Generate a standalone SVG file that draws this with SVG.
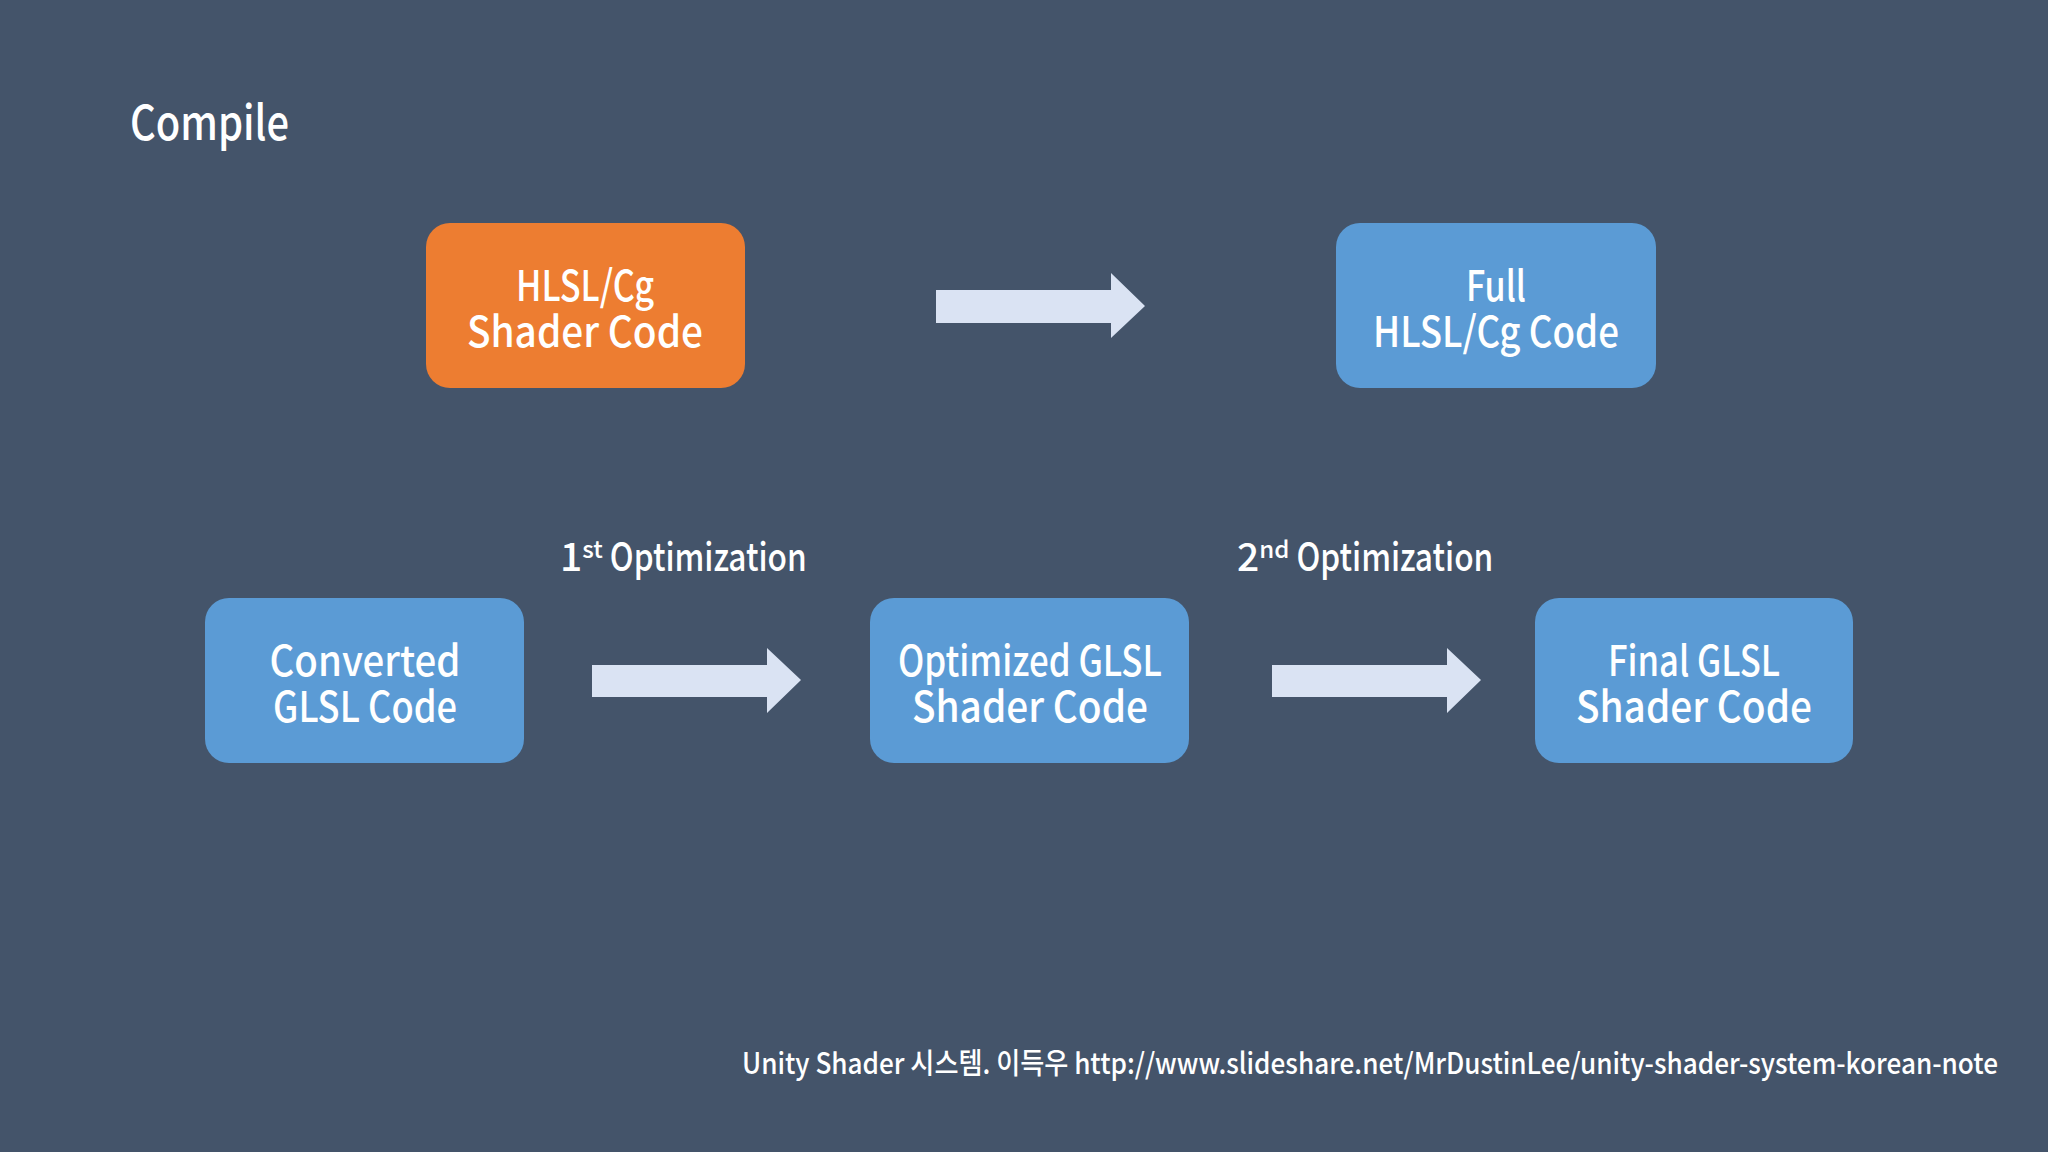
<svg xmlns="http://www.w3.org/2000/svg" width="2048" height="1152" viewBox="0 0 2048 1152">
<style>
text{font-family:"Noto Sans CJK KR","Noto Sans",sans-serif;fill:#fff;font-weight:500}
.b{font-size:42px;text-anchor:middle}
.l{font-size:39px}
.o{fill:#ED7D31}.u{fill:#5B9BD5}
.a{fill:#DAE3F3}
</style>
<rect width="2048" height="1152" fill="#44546A"/>
<text x="130" y="140" font-size="48" textLength="159" lengthAdjust="spacingAndGlyphs">Compile</text>
<g id="n1"><rect class="o" x="426" y="223" width="319" height="165" rx="24"/><text class="b" x="585" y="301" textLength="138" lengthAdjust="spacingAndGlyphs">HLSL/Cg</text><text class="b" x="585" y="347" textLength="236" lengthAdjust="spacingAndGlyphs">Shader Code</text></g>
<g id="n2"><rect class="u" x="1336" y="223" width="320" height="165" rx="24"/><text class="b" x="1496" y="301" textLength="60" lengthAdjust="spacingAndGlyphs">Full</text><text class="b" x="1496" y="347" textLength="246" lengthAdjust="spacingAndGlyphs">HLSL/Cg Code</text></g>
<g id="n3"><rect class="u" x="205" y="598" width="319" height="165" rx="24"/><text class="b" x="365" y="676" textLength="191" lengthAdjust="spacingAndGlyphs">Converted</text><text class="b" x="365" y="722" textLength="184" lengthAdjust="spacingAndGlyphs">GLSL Code</text></g>
<g id="n4"><rect class="u" x="870" y="598" width="319" height="165" rx="24"/><text class="b" x="1030" y="676" textLength="264" lengthAdjust="spacingAndGlyphs">Optimized GLSL</text><text class="b" x="1030" y="722" textLength="236" lengthAdjust="spacingAndGlyphs">Shader Code</text></g>
<g id="n5"><rect class="u" x="1535" y="598" width="318" height="165" rx="24"/><text class="b" x="1694" y="676" textLength="172" lengthAdjust="spacingAndGlyphs">Final GLSL</text><text class="b" x="1694" y="722" textLength="236" lengthAdjust="spacingAndGlyphs">Shader Code</text></g>
<g id="connectors">
<polygon class="a" points="936,290 1111,290 1111,273 1145,306 1111,338 1111,323 936,323"/>
<polygon class="a" points="592,665 767,665 767,648 801,680 767,713 767,697 592,697"/>
<polygon class="a" points="1272,665 1447,665 1447,648 1481,680 1447,713 1447,697 1272,697"/>
</g>
<text class="l" x="560" y="571">1<tspan font-size="24" dy="-13">st</tspan><tspan dy="13" textLength="204" lengthAdjust="spacingAndGlyphs"> Optimization</tspan></text>
<text class="l" x="1237" y="571">2<tspan font-size="24" dy="-13">nd</tspan><tspan dy="13" textLength="204" lengthAdjust="spacingAndGlyphs"> Optimization</tspan></text>
<text x="742" y="1074" font-size="29" textLength="1256" lengthAdjust="spacingAndGlyphs">Unity Shader 시스템. 이득우 http://www.slideshare.net/MrDustinLee/unity-shader-system-korean-note</text>
</svg>
